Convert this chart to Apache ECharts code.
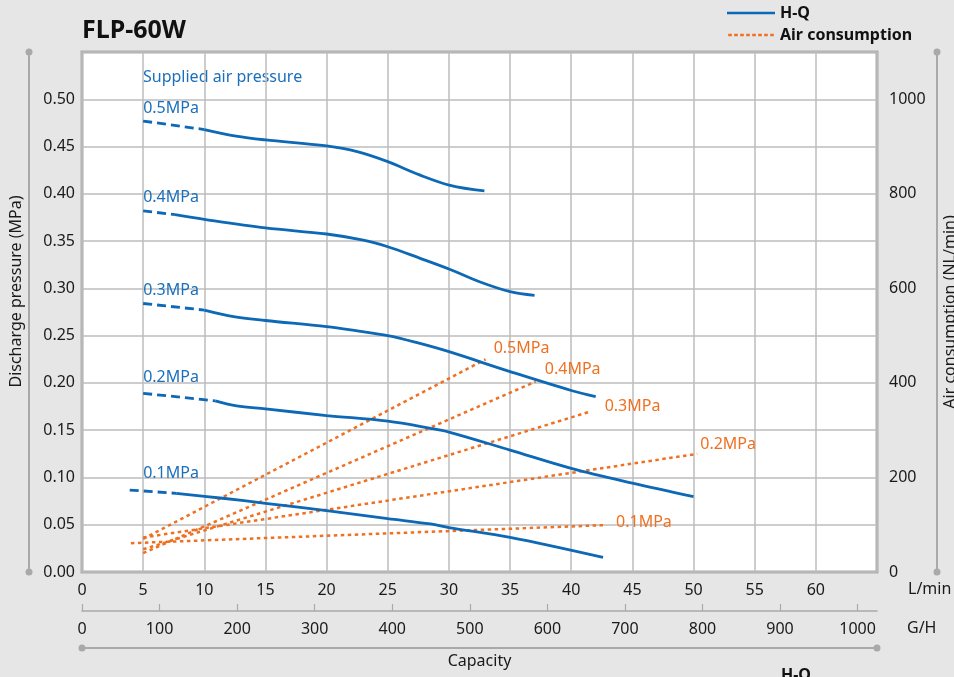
<!DOCTYPE html>
<html><head><meta charset="utf-8">
<script src="https://cdn.jsdelivr.net/npm/echarts@6/dist/echarts.min.js"></script>
<style>html,body{margin:0;padding:0;background:#e6e6e6}#c{width:954px;height:677px}</style>
</head><body><div id="c"></div>
<script>
// ---- data ----
const pressureLabels = ['0.5MPa', '0.4MPa', '0.3MPa', '0.2MPa', '0.1MPa'];
// H-Q curves: [L/min, MPa]; dashed (extrapolated) start + solid part
const hq05Dash = [[5, 0.477], [10, 0.468]];
const hq05 = [[10, 0.468], [12.6, 0.461], [15, 0.457], [20, 0.4506], [22.5, 0.4446], [25, 0.434], [27.6, 0.42], [30.1, 0.409], [32.9, 0.403]];
const hq04Dash = [[5, 0.382], [7.6, 0.378]];
const hq04 = [[7.6, 0.378], [10, 0.373], [15, 0.364], [20, 0.3575], [23, 0.351], [25, 0.344], [27.6, 0.332], [30.1, 0.320], [32.5, 0.307], [35, 0.2965], [37, 0.2926]];
const hq03Dash = [[5, 0.284], [10, 0.277]];
const hq03 = [[10, 0.277], [12.4, 0.270], [15, 0.266], [20, 0.2595], [22.5, 0.255], [25, 0.25], [27.4, 0.2425], [30, 0.233], [35, 0.212], [40, 0.192], [42, 0.1855]];
const hq02Dash = [[5, 0.189], [10.9, 0.181]];
const hq02 = [[10.9, 0.181], [12.65, 0.1756], [15, 0.1725], [20, 0.1655], [25, 0.1595], [28.5, 0.152], [30, 0.148], [35, 0.129], [40, 0.1097], [45, 0.094], [50, 0.0797]];
const hq01Dash = [[3.9, 0.0867], [5, 0.0857], [7.7, 0.0832]];
const hq01 = [[7.7, 0.0832], [11.5, 0.078], [15, 0.0727], [20, 0.0649], [25, 0.0565], [28.5, 0.0508], [30, 0.047], [35, 0.0367], [42.6, 0.0155]];
// Air consumption: [L/min, NL/min]
const air05 = [[5, 70], [33, 450]];
const air04 = [[5, 40], [37.1, 403]];
const air03 = [[5, 48], [41.5, 339]];
const air02 = [[5, 73], [50.3, 250]];
const air01 = [[4, 61], [42.6, 99]];
// axis ticks
const ghTicks = [0, 100, 200, 300, 400, 500, 600, 700, 800, 900, 1000];

// ---- styles ----
const blue = '#0d68b6', blueText = '#1b6fbb', orange = '#f07021';
const hqSolid = [hq05, hq04, hq03, hq02, hq01];
const hqDash = [hq05Dash, hq04Dash, hq03Dash, hq02Dash, hq01Dash];
const airLines = [air05, air04, air03, air02, air01];
const airOffsets = [[3, -11], [4, -12], [10, -5], [-2, -9], [8, -3]];
const hqLabelOffsets = [[0, 0], [0, 0], [0, 0], [0, -3], [0, -4]];
const font = 'Noto Sans';

const series = [];
hqSolid.forEach((d, i) => {
  series.push({
    name: 'H-Q', type: 'line', data: d, smooth: 0.35, symbol: 'none',
    lineStyle: { color: blue, width: 2.8 }, itemStyle: { color: blue }, z: 4
  });
});
airLines.forEach((d, i) => {
  series.push({
    name: 'Air consumption', type: 'line', yAxisIndex: 1, symbol: 'circle', symbolSize: 0.1, showSymbol: true,
    data: d.map((p, j) => j === d.length - 1 ? {
      value: p,
      label: { show: true, formatter: pressureLabels[i], position: 'right', distance: 5, offset: airOffsets[i], color: orange, fontSize: 16, fontFamily: font }
    } : p),
    lineStyle: { color: orange, width: 2.5, type: [3.5, 3.5] }, itemStyle: { color: orange }, z: 3
  });
});
hqDash.forEach((d, i) => {
  series.push({
    name: 'H-Q extrapolated', type: 'line', symbol: 'circle', symbolSize: 0.1, showSymbol: true,
    data: d.map(p => p[0] === 5 ? {
      value: p,
      label: { show: true, formatter: pressureLabels[i], position: 'top', align: 'left', distance: 5, offset: hqLabelOffsets[i], color: blueText, fontSize: 16, fontFamily: font }
    } : p),
    lineStyle: { color: blue, width: 2.8, type: [9, 5] }, itemStyle: { color: blue }, z: 4
  });
});

const dottedIcon = 'path://' + [0, 6, 12, 18, 24, 30, 36, 42].map(x => 'M' + x + ',0h3.6v2.6h-3.6z').join(' ');
const axisGray = '#a9a9a9';
const labelStyle = { color: '#1a1a1a', fontSize: 16, fontFamily: font };
const chart = echarts.init(document.getElementById('c'));
chart.setOption({
  animation: false,
  backgroundColor: '#e6e6e6',
  textStyle: { fontFamily: font },
  title: { text: 'FLP-60W', left: 82, top: 18, padding: 0, textStyle: { fontSize: 25, fontWeight: 'bold', color: '#111', fontFamily: font } },
  legend: {
    data: [{ name: 'H-Q', icon: 'rect' }, { name: 'Air consumption', icon: dottedIcon }],
    orient: 'vertical', left: 727, top: 5, padding: 0,
    itemWidth: 48, itemHeight: 2.6, itemGap: 6, selectedMode: false,
    textStyle: { fontWeight: 'bold', fontSize: 16, color: '#111', fontFamily: font }
  },
  grid: { left: 82, top: 52, right: 77, bottom: 105, show: true, backgroundColor: '#ffffff', borderColor: axisGray, borderWidth: 3, containLabel: false, outerBoundsMode: 'none' },
  xAxis: [
    {
      type: 'value', min: 0, max: 65, interval: 5, position: 'bottom',
      axisLine: { show: false }, axisTick: { show: false },
      axisLabel: Object.assign({ margin: 10, showMaxLabel: false }, labelStyle),
      splitLine: { show: true, lineStyle: { color: '#bcbcbc', width: 1.5 } },
      name: 'L/min', nameLocation: 'end', nameGap: 31,
      nameTextStyle: Object.assign({ align: 'left', verticalAlign: 'top', padding: [9, 0, 0, 0] }, labelStyle)
    },
    {
      type: 'value', min: 0, max: 1025, interval: 100, position: 'bottom', offset: 39,
      axisLine: { show: true, onZero: false, lineStyle: { color: axisGray, width: 1.5 } },
      axisTick: { show: true, inside: true, length: 7, customValues: ghTicks, lineStyle: { color: axisGray, width: 1.2 } },
      axisLabel: Object.assign({ margin: 10, customValues: ghTicks, formatter: v => String(v) }, labelStyle),
      splitLine: { show: false },
      name: 'G/H', nameLocation: 'end', nameGap: 30,
      nameTextStyle: Object.assign({ align: 'left', verticalAlign: 'top', padding: [9, 0, 0, 0] }, labelStyle)
    },
    {
      type: 'value', min: 0, max: 1, position: 'bottom', offset: 76,
      axisLine: { show: true, onZero: false, symbol: ['circle', 'circle'], symbolSize: [7, 7], lineStyle: { color: axisGray, width: 2 } },
      axisTick: { show: false }, axisLabel: { show: false }, splitLine: { show: false },
      name: 'Capacity', nameLocation: 'middle', nameGap: 5,
      nameTextStyle: Object.assign({ verticalAlign: 'top' }, labelStyle)
    }
  ],
  yAxis: [
    {
      type: 'value', min: 0, max: 0.55, interval: 0.05, position: 'left',
      axisLine: { show: false }, axisTick: { show: false },
      axisLabel: Object.assign({ margin: 7, showMaxLabel: false, formatter: v => v.toFixed(2) }, labelStyle),
      splitLine: { show: true, lineStyle: { color: '#bcbcbc', width: 1.5 } }
    },
    {
      type: 'value', min: 0, max: 1100, interval: 200, position: 'right',
      axisLine: { show: false }, axisTick: { show: false },
      axisLabel: Object.assign({ margin: 12, showMaxLabel: false, formatter: v => String(v) }, labelStyle),
      splitLine: { show: false }
    },
    {
      type: 'value', min: 0, max: 1, position: 'left', offset: 53,
      axisLine: { show: true, onZero: false, symbol: ['circle', 'circle'], symbolSize: [7, 7], lineStyle: { color: axisGray, width: 2 } },
      axisTick: { show: false }, axisLabel: { show: false }, splitLine: { show: false },
      name: 'Discharge pressure (MPa)', nameLocation: 'middle', nameGap: 5,
      nameTextStyle: Object.assign({ padding: [0, 0, 0, 41] }, labelStyle)
    },
    {
      type: 'value', min: 0, max: 1, position: 'right', offset: 60,
      axisLine: { show: true, onZero: false, symbol: ['circle', 'circle'], symbolSize: [7, 7], lineStyle: { color: axisGray, width: 2 } },
      axisTick: { show: false }, axisLabel: { show: false }, splitLine: { show: false },
      name: 'Air consumption (NL/min)', nameLocation: 'middle', nameGap: 5,
      nameTextStyle: labelStyle
    }
  ],
  graphic: [
    { type: 'text', left: 143, top: 69, style: { text: 'Supplied air pressure', fill: blueText, fontSize: 16, fontFamily: font } },
    { type: 'text', left: 781, top: 667, style: { text: 'H-Q', fill: '#111', fontSize: 16, fontWeight: 'bold', fontFamily: font } }
  ],
  series: series
});
</script>
</body></html>
